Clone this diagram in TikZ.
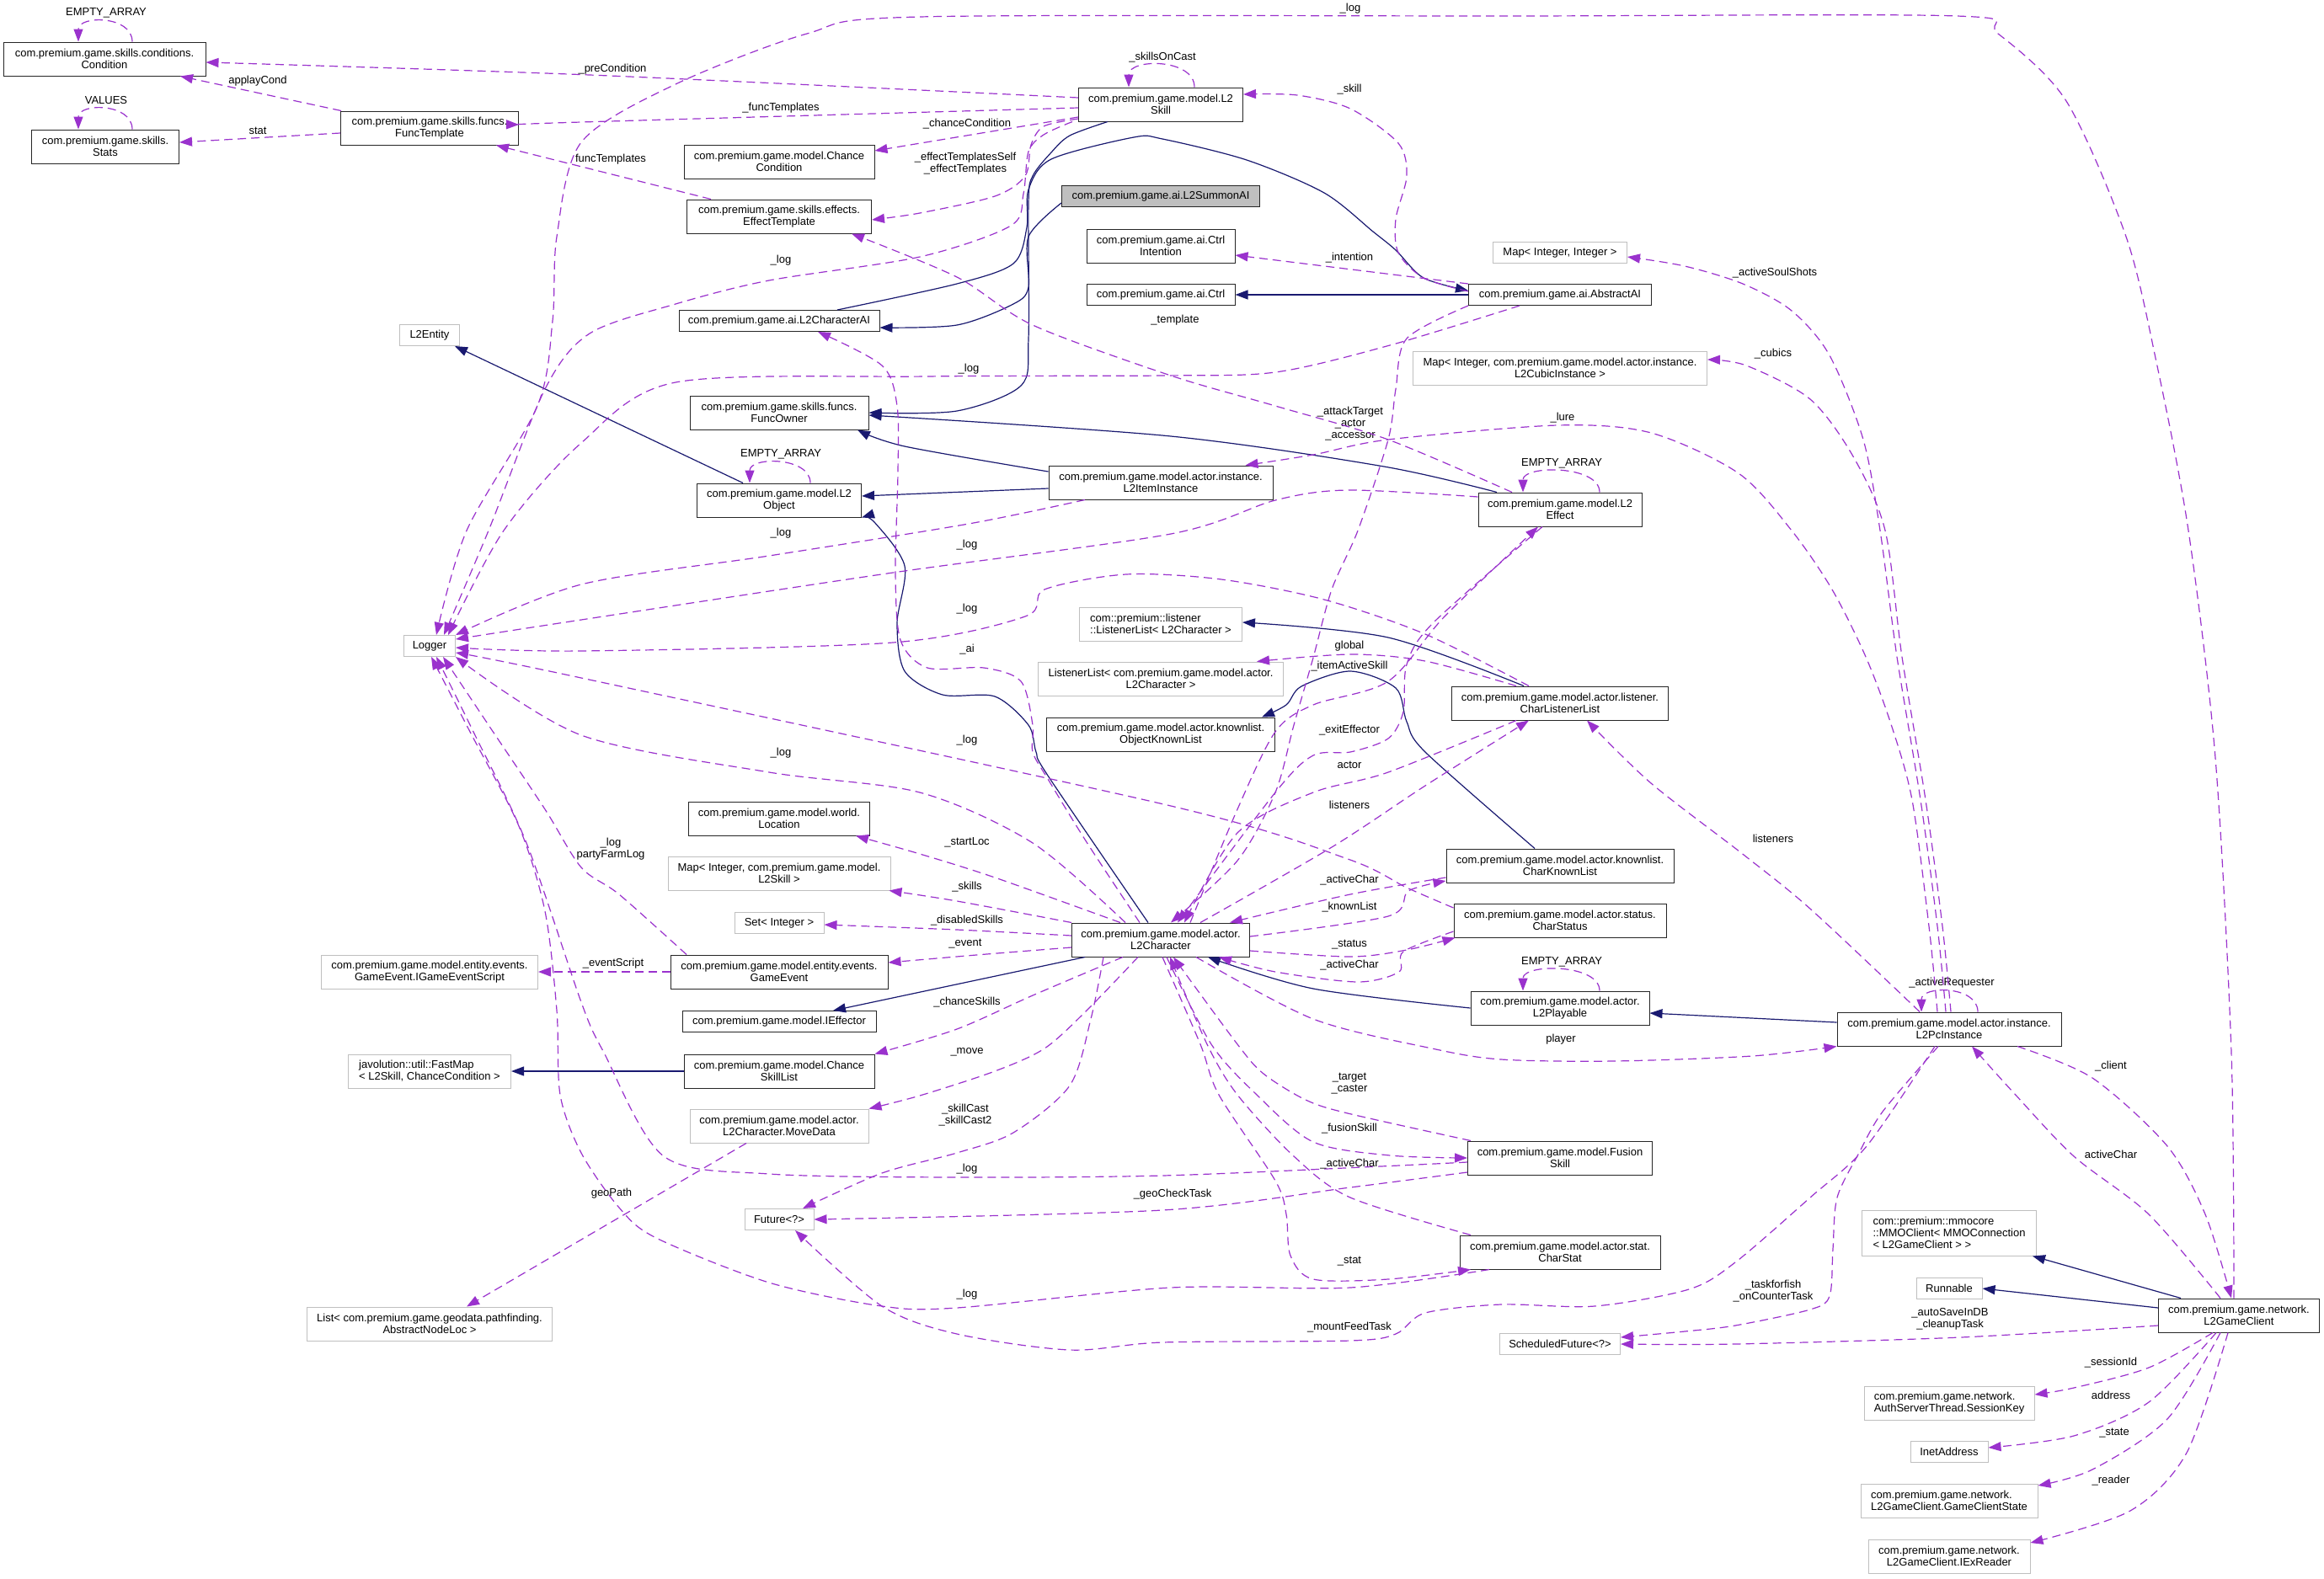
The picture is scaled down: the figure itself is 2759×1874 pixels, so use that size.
\documentclass[tikz,border=0pt]{standalone}
\usepackage{fontspec}
\setmainfont{Liberation Sans}
\usepackage{tikz}
\usetikzlibrary{arrows.meta}
\definecolor{usecol}{HTML}{9A32CD}
\definecolor{inhcol}{HTML}{191970}
\definecolor{extcol}{HTML}{BFBFBF}

\begin{document}
\begin{tikzpicture}[
  x=1pt, y=-1pt,
  font=\fontsize{13}{14}\selectfont,
  cls/.style={
    rectangle,
    draw=black!85,
    line width=1pt,
    fill=white,
    align=center,
    inner xsep=2pt,
    inner ysep=1pt,
    minimum height=25pt
  },
  twoline/.style={minimum height=40pt},
  extcls/.style={cls, draw=extcol},
  focuscls/.style={cls, fill=extcol},
  lbl/.style={inner sep=0pt, align=center},
  inharrow/.style={
    -{Triangle[length=15pt,width=11pt]},
    line width=1.2pt,
    draw=inhcol
  },
  usearrow/.style={
    -{Triangle[length=15pt,width=11pt]},
    line width=1.2pt,
    draw=usecol,
    dash pattern=on 10pt off 6pt
  }
]
\useasboundingbox (0,0) rectangle (2759,1874);
\fill[white] (0,0) rectangle (2759,1874);

\node[cls, twoline, minimum width=240] (cond) at (124,70) {com.premium.game.skills.conditions.\\Condition};
\node[cls, twoline, minimum width=175] (stats) at (125,174) {com.premium.game.skills.\\Stats};
\node[cls, twoline, minimum width=211] (functpl) at (510,152) {com.premium.game.skills.funcs.\\FuncTemplate};
\node[extcls, minimum width=71] (entity) at (510,398) {L2Entity};
\node[extcls, minimum width=61] (logger) at (510,767) {Logger};
\node[extcls, twoline, minimum width=257] (evscript) at (510,1154) {com.premium.game.model.entity.events.\\GameEvent.IGameEventScript};
\node[extcls, twoline, minimum width=193, align=left] (fastmap) at (510,1272) {javolution::util::FastMap\\< L2Skill, ChanceCondition >};
\node[extcls, twoline, minimum width=291] (nodeloc) at (510,1572) {List< com.premium.game.geodata.pathfinding.\\AbstractNodeLoc >};

\node[cls, twoline, minimum width=226] (chcond) at (925,192) {com.premium.game.model.Chance\\Condition};
\node[cls, twoline, minimum width=219] (efftpl) at (925,257) {com.premium.game.skills.effects.\\EffectTemplate};
\node[cls, minimum width=238] (charai) at (925,381) {com.premium.game.ai.L2CharacterAI};
\node[cls, twoline, minimum width=212] (funcowner) at (925,490) {com.premium.game.skills.funcs.\\FuncOwner};
\node[cls, twoline, minimum width=195] (l2obj) at (925,594) {com.premium.game.model.L2\\Object};
\node[cls, twoline, minimum width=215] (location) at (925,972) {com.premium.game.model.world.\\Location};
\node[extcls, twoline, minimum width=264] (mapskill) at (925,1037) {Map< Integer, com.premium.game.model.\\L2Skill >};
\node[extcls, minimum width=106] (setint) at (925,1096) {Set< Integer >};
\node[cls, twoline, minimum width=258] (gameevent) at (925,1154) {com.premium.game.model.entity.events.\\GameEvent};
\node[cls, minimum width=230] (effector) at (925,1213) {com.premium.game.model.IEffector};
\node[cls, twoline, minimum width=226] (chskills) at (925,1272) {com.premium.game.model.Chance\\SkillList};
\node[extcls, twoline, minimum width=212] (movedata) at (925,1337) {com.premium.game.model.actor.\\L2Character.MoveData};
\node[extcls, minimum width=82] (future) at (925,1448) {Future<?>};

\node[cls, twoline, minimum width=195] (skill) at (1378,124) {com.premium.game.model.L2\\Skill};
\node[focuscls, minimum width=235] (summonai) at (1378,233) {com.premium.game.ai.L2SummonAI};
\node[cls, twoline, minimum width=176] (ctrlint) at (1378,292) {com.premium.game.ai.Ctrl\\Intention};
\node[cls, minimum width=176] (ctrl) at (1378,350) {com.premium.game.ai.Ctrl};
\node[cls, twoline, minimum width=266] (item) at (1378,573) {com.premium.game.model.actor.instance.\\L2ItemInstance};
\node[extcls, twoline, minimum width=193, align=left] (lstchar) at (1378,741) {com::premium::listener\\::ListenerList< L2Character >};
\node[extcls, twoline, minimum width=291] (lstgen) at (1378,806) {ListenerList< com.premium.game.model.actor.\\L2Character >};
\node[cls, twoline, minimum width=271] (objknown) at (1378,872) {com.premium.game.model.actor.knownlist.\\ObjectKnownList};
\node[cls, twoline, minimum width=211] (l2char) at (1378,1116) {com.premium.game.model.actor.\\L2Character};

\node[cls, minimum width=217] (abstractai) at (1852,350) {com.premium.game.ai.AbstractAI};
\node[extcls, minimum width=159] (mapint) at (1852,300) {Map< Integer, Integer >};
\node[extcls, twoline, minimum width=349] (mapcubic) at (1852,437) {Map< Integer, com.premium.game.model.actor.instance.\\L2CubicInstance >};
\node[cls, twoline, minimum width=194] (effect) at (1852,605) {com.premium.game.model.L2\\Effect};
\node[cls, twoline, minimum width=257] (charlst) at (1852,835) {com.premium.game.model.actor.listener.\\CharListenerList};
\node[cls, twoline, minimum width=270] (charknown) at (1852,1028) {com.premium.game.model.actor.knownlist.\\CharKnownList};
\node[cls, twoline, minimum width=252] (charstatus) at (1852,1093) {com.premium.game.model.actor.status.\\CharStatus};
\node[cls, twoline, minimum width=212] (playable) at (1852,1197) {com.premium.game.model.actor.\\L2Playable};
\node[cls, twoline, minimum width=219] (fusion) at (1852,1375) {com.premium.game.model.Fusion\\Skill};
\node[cls, twoline, minimum width=238] (charstat) at (1852,1487) {com.premium.game.model.actor.stat.\\CharStat};
\node[extcls, minimum width=143] (schedfut) at (1852,1596) {ScheduledFuture<?>};

\node[cls, twoline, minimum width=266] (pcinst) at (2314,1222) {com.premium.game.model.actor.instance.\\L2PcInstance};
\node[extcls, minimum height=54pt, minimum width=207, align=left] (mmoclient) at (2314,1464) {com::premium::mmocore\\::MMOClient< MMOConnection\\< L2GameClient > >};
\node[extcls, minimum width=78] (runnable) at (2314,1530) {Runnable};
\node[cls, twoline, minimum width=191] (gameclient) at (2658,1562) {com.premium.game.network.\\L2GameClient};
\node[extcls, twoline, minimum width=202, align=left] (sesskey) at (2314,1666) {com.premium.game.network.\\AuthServerThread.SessionKey};
\node[extcls, minimum width=92] (inetaddr) at (2314,1724) {InetAddress};
\node[extcls, twoline, minimum width=210, align=left] (clstate) at (2314,1782) {com.premium.game.network.\\L2GameClient.GameClientState};
\node[extcls, twoline, minimum width=192] (exreader) at (2314,1848) {com.premium.game.network.\\L2GameClient.IExReader};

\draw[inharrow] ([xshift=-43]l2obj.north) -- ([xshift=30]entity.south);
\draw[inharrow] ([yshift=-7]item.west) -- ([yshift=5]l2obj.east);
\draw[inharrow] plot[smooth] coordinates {([yshift=13]item.west) (1074,530) ([xshift=93]funcowner.south)};
\draw[inharrow] plot[smooth] coordinates {([xshift=-75]effect.north) (1643,554) (1390,518) ([yshift=-3]funcowner.east)};
\draw[inharrow] plot[smooth] coordinates {([xshift=-63]skill.south) (1270,161) (1248,181) (1226,209) (1221,241) (1221,402) (1212,458) (1136,488) (funcowner.east)};
\draw[inharrow] plot[smooth] coordinates {([yshift=-8]summonai.west) (1221,281) (1221,341) (1203,361) (1136,386) ([yshift=-8]charai.east)};
\draw[inharrow] plot[smooth] coordinates {([xshift=69]charai.north) (1136,337) (1203,313) (1219,270) (1221,225) (1248,189) (1346,163) (1380,165) (1480,190) (1572,229) (1630,275) (1657,297) (1690,330) ([yshift=5]abstractai.west)};
\draw[inharrow] (abstractai.west) -- (ctrl.east);
\draw[inharrow] plot[smooth] coordinates {([xshift=-43]charlst.north) (1648,757) ([yshift=2]lstchar.east)};
\draw[inharrow] plot[smooth] coordinates {([xshift=-30]charknown.north) (1692,893) (1670,857) (1657,817) (1603,797) (1545,815) (1527,837) ([xshift=-16]objknown.north east)};
\draw[inharrow] plot[smooth] coordinates {([xshift=-15]l2char.north) (1244,921) (1230,893) (1221,861) (1181,827) (1119,825) (1074,797) (1065,740) (1074,672) (1038,620) (l2obj.south east)};
\draw[inharrow] plot[smooth] coordinates {(playable.west) (1559,1174) ([xshift=56]l2char.south)};
\draw[inharrow] ([yshift=8]pcinst.west) -- ([yshift=-6]playable.east);
\draw[inharrow] ([xshift=-90]l2char.south) -- ([xshift=64]effector.north);
\draw[inharrow] (chskills.west) -- (fastmap.east);
\draw[inharrow] ([xshift=-69]gameclient.north) -- ([xshift=99]mmoclient.south);
\draw[inharrow] ([yshift=9]gameclient.west) -- (runnable.east);

\draw[usearrow] ([xshift=33]cond.north) .. controls (157,18) and (93,18) .. ([xshift=-31]cond.north);
\node[lbl] (lcondloop) at (126,15) {EMPTY\_ARRAY};
\draw[usearrow] ([xshift=32]stats.north) .. controls (157,122) and (93,122) .. ([xshift=-32]stats.north);
\node[lbl] (lstatsloop) at (126,119) {VALUES};
\draw[usearrow] ([xshift=37]l2obj.north) .. controls (962,542) and (890,542) .. ([xshift=-35]l2obj.north);
\node[lbl] (lobjloop) at (927,539) {EMPTY\_ARRAY};
\draw[usearrow] ([xshift=40]skill.north) .. controls (1418,69) and (1340,69) .. ([xshift=-38]skill.north);
\node[lbl] (lskillloop) at (1380,68) {\_skillsOnCast};
\draw[usearrow] ([xshift=47]effect.north) .. controls (1899,552) and (1808,552) .. ([xshift=-44]effect.north);
\node[lbl] (leffloop) at (1854,550) {EMPTY\_ARRAY};
\draw[usearrow] ([xshift=47]playable.north) .. controls (1899,1144) and (1808,1144) .. ([xshift=-44]playable.north);
\node[lbl] (lplayloop) at (1854,1142) {EMPTY\_ARRAY};
\draw[usearrow] ([xshift=34]pcinst.north) .. controls (2348,1170) and (2281,1170) .. ([xshift=-33]pcinst.north);
\node[lbl] (lpcloop) at (2317,1167) {\_activeRequester};

\draw[usearrow] plot[smooth] coordinates {([yshift=8]skill.west) (700,89) ([yshift=-4]cond.east)};
\node[lbl] (lprecond) at (727,82) {\_preCondition};
\draw[usearrow] ([xshift=-105]functpl.north) -- ([xshift=90]cond.south);
\node[lbl] (lapplay) at (306,96) {applayCond};
\draw[usearrow] ([yshift=-6]functpl.west) -- ([yshift=5]stats.east);
\node[lbl] (lstat) at (306,155) {stat};
\draw[usearrow] plot[smooth] coordinates {([yshift=-4]skill.west) (690,145) ([yshift=4]functpl.east)};
\node[lbl] (lfunctpls) at (927,128) {\_funcTemplates};
\draw[usearrow] ([xshift=-81]efftpl.north) -- ([xshift=79]functpl.south);
\node[lbl] (lfunctpl) at (725,189) {funcTemplates};
\draw[usearrow] ([yshift=-15]skill.west) -- ([yshift=13]chcond.east);
\node[lbl] (lchcond) at (1148,147) {\_chanceCondition};
\draw[usearrow] plot[smooth] coordinates {([yshift=-17]skill.west) (1239,150) (1224,172) (1217,209) (1181,233) (1092,253) ([yshift=-4]efftpl.east)};
\node[lbl] (lefftpl) at (1146,194) {\_effectTemplatesSelf\\\_effectTemplates};
\draw[usearrow] plot[smooth] coordinates {([xshift=-105]skill.south) (1239,160) (1221,180) (1215,230) (1200,268) (1092,305) (913,333) (802,361) (700,396) (647,462) (580,630) ([xshift=17]logger.north)};
\node[lbl] (llogskill) at (927,309) {\_log};

\draw[usearrow] (abstractai.north west) -- ([yshift=-11]ctrlint.east);
\node[lbl] (lintention) at (1602,306) {\_intention};
\draw[usearrow] plot[smooth] coordinates {([yshift=4]abstractai.west) (1690,330) (1660,300) (1657,260) (1670,209) (1660,170) (1603,129) (1540,113) ([yshift=12]skill.east)};
\node[lbl] (lskill) at (1602,106) {\_skill};
\draw[usearrow] plot[smooth] coordinates {(abstractai.south west) (1670,402) (1657,462) (1648,522) (1612,630) (1581,700) (1559,781) (1536,861) (1514,941) (1469,1022) ([xshift=12]l2char.north)};
\node[lbl] (lactor) at (1603,503) {\_attackTarget\\\_actor\\\_accessor};
\draw[usearrow] plot[smooth] coordinates {([xshift=-25]l2char.north) (1290,1000) (1244,925) (1226,893) (1226,861) (1212,809) (1168,793) (1101,793) (1069,760) (1063,680) (1066,560) (1065,482) (1047,434) ([xshift=46]charai.south)};
\node[lbl] (lai) at (1148,771) {\_ai};
\draw[usearrow] plot[smooth] coordinates {([xshift=-57]effect.north) (1648,522) (1514,482) (1390,446) (1226,386) (1136,329) ([xshift=86]efftpl.south)};
\node[lbl] (ltemplate) at (1395,380) {\_template};
\draw[usearrow] plot[smooth] coordinates {([xshift=35]l2char.north) (1469,961) (1514,869) (1559,837) (1648,809) (1715,732) ([xshift=-26]effect.south)};
\node[lbl] (litemskill) at (1602,791) {\_itemActiveSkill};
\draw[usearrow] plot[smooth] coordinates {([xshift=-21]effect.south) (1701,740) (1670,789) (1666,845) (1648,877) (1603,893) (1559,897) (1514,941) ([xshift=20]l2char.north)};
\node[lbl] (lexit) at (1602,867) {\_exitEffector};

\draw[usearrow] plot[smooth] coordinates {([xshift=-14]pcinst.north) (2290,1100) (2270,950) (2245,860) (2215,780) (2175,700) (2127,630) (2064,562) (1960,514) (1849,505) (1648,522) (1559,540) ([xshift=-33]item.north east)};
\node[lbl] (llure) at (1855,496) {\_lure};
\draw[usearrow] plot[smooth] coordinates {([xshift=-4]pcinst.north) (2300,1100) (2280,950) (2252,780) (2232,630) (2212,522) (2172,422) (2127,369) (2069,337) (2000,316) ([yshift=-5]mapint.east)};
\node[lbl] (lsoul) at (2107,324) {\_activeSoulShots};
\draw[usearrow] plot[smooth] coordinates {([xshift=2]pcinst.north) (2306,1100) (2286,950) (2258,780) (2238,630) (2200,542) (2149,474) (2073,434) ([yshift=10]mapcubic.east)};
\node[lbl] (lcubics) at (2105,420) {\_cubics};

\draw[usearrow] plot[smooth] coordinates {([xshift=-6]gameclient.north) (2649,1250) (2630,900) (2598,630) (2560,430) (2524,281) (2453,120) (2372,40) (2323,19) (1800,19) (1092,20) (958,40) (802,100) (690,169) (661,281) (656,381) (638,482) (554,630) ([xshift=8]logger.north)};
\node[lbl] (lloggc) at (1603,10) {\_log};
\draw[usearrow] plot[smooth] coordinates {([xshift=-48]abstractai.south) (1650,410) (1514,442) (1380,446) (1100,447) (802,454) (690,526) (598,630) ([xshift=22]logger.north)};
\node[lbl] (llogai) at (1150,438) {\_log};
\draw[usearrow] plot[smooth] coordinates {([xshift=-90]item.south) (1150,622) (913,660) (690,694) (logger.north east)};
\node[lbl] (llogitem) at (927,633) {\_log};
\draw[usearrow] plot[smooth] coordinates {([yshift=15]effect.west) (1600,582) (1514,594) (1390,634) (1060,680) (690,736) ([yshift=8]logger.east)};
\node[lbl] (llogeff) at (1148,647) {\_log};
\draw[usearrow] plot[smooth] coordinates {([xshift=-37]charlst.north) (1692,753) (1572,712) (1450,688) (1337,682) (1240,700) (1217,732) (1060,763) (690,773) ([yshift=-2]logger.east)};
\node[lbl] (lloglst) at (1148,723) {\_log};
\draw[usearrow] plot[smooth] coordinates {([yshift=15]charstatus.west) (1670,1054) (1600,1020) (1390,957) (690,805) ([yshift=-8]logger.east)};
\node[lbl] (llogstatus) at (1148,879) {\_log};
\draw[usearrow] plot[smooth] coordinates {([xshift=-42]l2char.north) (1226,1001) (1092,941) (913,917) (690,873) (logger.south east)};
\node[lbl] (llogchar) at (927,894) {\_log};
\draw[usearrow] plot[smooth] coordinates {([xshift=-110]gameevent.north) (735,1062) (690,1030) (647,961) (580,861) ([xshift=16]logger.south)};
\node[lbl] (llogevent) at (725,1008) {\_log\\partyFarmLog};
\draw[usearrow] plot[smooth] coordinates {([yshift=-5]fusion.west) (1639,1385) (1380,1396) (1136,1398) (913,1394) (788,1373) (717,1250) (690,1190) (625,1001) (562,869) ([xshift=8]logger.south)};
\node[lbl] (llogfusion) at (1148,1388) {\_log};
\draw[usearrow] plot[smooth] coordinates {([xshift=-84]charstat.south) (1603,1529) (1390,1529) (1136,1553) (1047,1551) (913,1523) (779,1470) (735,1434) (690,1369) (665,1300) (661,1200) (647,1082) (616,981) (558,869) ([xshift=2]logger.south)};
\node[lbl] (llogstat) at (1148,1537) {\_log};

\draw[usearrow] plot[smooth] coordinates {([xshift=-48]l2char.north) (1181,1042) (1092,1014) ([xshift=91]location.south)};
\node[lbl] (lstartloc) at (1148,1000) {\_startLoc};
\draw[usearrow] plot[smooth] coordinates {(l2char.north west) (1136,1070) ([xshift=-2]mapskill.south east)};
\node[lbl] (lskills) at (1148,1053) {\_skills};
\draw[usearrow] plot[smooth] coordinates {([yshift=5]l2char.west) (1136,1104) ([yshift=-2]setint.east)};
\node[lbl] (ldisabled) at (1148,1093) {\_disabledSkills};
\draw[usearrow] plot[smooth] coordinates {([yshift=-9]l2char.west) (1159,1134) ([yshift=11]gameevent.east)};
\node[lbl] (levent) at (1146,1121) {\_event};
\draw[usearrow] (gameevent.west) -- (evscript.east);
\node[lbl] (levscript) at (728,1144) {\_eventScript};
\draw[usearrow] plot[smooth] coordinates {([xshift=-45]l2char.south) (1226,1182) (1136,1222) (chskills.north east)};
\node[lbl] (lchskills) at (1148,1190) {\_chanceSkills};
\draw[usearrow] plot[smooth] coordinates {([xshift=-27]l2char.south) (1290,1200) (1240,1245) (1181,1272) (1092,1301) (movedata.north east)};
\node[lbl] (lmove) at (1148,1249) {\_move};
\draw[usearrow] ([xshift=-39]movedata.south) -- ([xshift=44]nodeloc.north);
\node[lbl] (lgeopath) at (726,1417) {geoPath};
\draw[usearrow] plot[smooth] coordinates {([xshift=-68]l2char.south) (1295,1210) (1270,1289) (1203,1345) (1136,1369) (1047,1393) ([xshift=28]future.north)};
\node[lbl] (lskillcast) at (1146,1324) {\_skillCast\\\_skillCast2};
\draw[usearrow] plot[smooth] coordinates {([yshift=-17]fusion.west) (1603,1410) (1380,1437) (future.east)};
\node[lbl] (lgeocheck) at (1392,1418) {\_geoCheckTask};
\draw[usearrow] plot[smooth] coordinates {([xshift=-17]pcinst.south) (2216,1361) (2149,1422) (2060,1499) (2005,1531) (1893,1551) (1782,1549) (1692,1559) (1657,1584) (1603,1592) (1380,1594) (1270,1603) (1136,1584) (1047,1551) ([xshift=19]future.south)};
\node[lbl] (lmount) at (1602,1576) {\_mountFeedTask};
\draw[usearrow] plot[smooth] coordinates {([xshift=-13]pcinst.south) (2235,1320) (2207,1369) (2181,1422) (2176,1483) (2172,1539) (2149,1555) (2060,1574) (2000,1581) ([yshift=8]schedfut.east)};
\node[lbl] (lfish) at (2105,1533) {\_taskforfish\\\_onCounterTask};
\draw[usearrow] plot[smooth] coordinates {([yshift=-12]gameclient.west) (2328,1588) (2060,1596) (schedfut.east)};
\node[lbl] (lautosave) at (2315,1566) {\_autoSaveInDB\\\_cleanupTask};

\draw[usearrow] plot[smooth] coordinates {([xshift=81]pcinst.south) (2484,1280) (2573,1361) (2618,1442) ([xshift=-9]gameclient.north)};
\node[lbl] (lclient) at (2506,1266) {\_client};
\draw[usearrow] plot[smooth] coordinates {([xshift=-22]gameclient.north) (2551,1442) (2462,1373) (2390,1297) ([xshift=27]pcinst.south)};
\node[lbl] (lactivegc) at (2506,1371) {activeChar};
\draw[usearrow] plot[smooth] coordinates {([xshift=-31]gameclient.south) (2551,1624) (2462,1648) ([yshift=10]sesskey.east)};
\node[lbl] (lsession) at (2506,1618) {\_sessionId};
\draw[usearrow] plot[smooth] coordinates {([xshift=-27]gameclient.south) (2551,1665) (2462,1705) ([yshift=5]inetaddr.east)};
\node[lbl] (laddress) at (2506,1657) {address};
\draw[usearrow] plot[smooth] coordinates {([xshift=-22]gameclient.south) (2573,1685) (2484,1745) ([yshift=18]clstate.east)};
\node[lbl] (lstate) at (2510,1702) {\_state};
\draw[usearrow] plot[smooth] coordinates {([xshift=-13]gameclient.south) (2596,1725) (2529,1794) ([yshift=16]exreader.east)};
\node[lbl] (lreader) at (2506,1758) {\_reader};

\draw[usearrow] plot[smooth] coordinates {([xshift=-52]charlst.north) (1692,785) (1603,777) ([xshift=114]lstgen.north)};
\node[lbl] (lglobal) at (1602,767) {global};
\draw[usearrow] plot[smooth] coordinates {([xshift=-52]charlst.south) (1648,917) (1559,941) (1469,989) ([xshift=28]l2char.north)};
\node[lbl] (lactorlst) at (1602,908) {actor};
\draw[usearrow] plot[smooth] coordinates {([xshift=47]l2char.north) (1581,1006) (1692,933) ([xshift=-37]charlst.south)};
\node[lbl] (llisten) at (1602,956) {listeners};
\draw[usearrow] plot[smooth] coordinates {([xshift=-35]pcinst.north) (2150,1080) (2070,1015) (1960,930) ([xshift=32]charlst.south)};
\node[lbl] (llistenpc) at (2105,996) {listeners};
\draw[usearrow] plot[smooth] coordinates {([yshift=-14]charknown.west) (1603,1062) ([xshift=82]l2char.north)};
\node[lbl] (lactiveknown) at (1602,1045) {\_activeChar};
\draw[usearrow] plot[smooth] coordinates {([yshift=4]l2char.east) (1648,1088) (1672,1058) ([yshift=-18]charknown.west)};
\node[lbl] (lknown) at (1602,1077) {\_knownList};
\draw[usearrow] plot[smooth] coordinates {([yshift=-13]l2char.east) (1603,1136) (1670,1128) ([xshift=2]charstatus.south west)};
\node[lbl] (lstatus) at (1602,1122) {\_status};
\draw[usearrow] plot[smooth] coordinates {([yshift=-13]charstatus.west) (1666,1130) (1661,1154) (1612,1166) (1514,1154) ([xshift=69]l2char.south)};
\node[lbl] (lactivestatus) at (1602,1146) {\_activeChar};
\draw[usearrow] plot[smooth] coordinates {([xshift=42]l2char.south) (1559,1210) (1700,1245) (1782,1258) (1916,1260) (2080,1254) (pcinst.south west)};
\node[lbl] (lplayer) at (1853,1234) {player};
\draw[usearrow] plot[smooth] coordinates {([xshift=-106]fusion.north) (1600,1322) (1550,1306) (1500,1275) (1469,1240) ([xshift=15]l2char.south)};
\node[lbl] (ltarget) at (1602,1287) {\_target\\\_caster};
\draw[usearrow] plot[smooth] coordinates {([xshift=7]l2char.south) (1438,1240) (1492,1300) (1559,1356) (1650,1372) (fusion.west)};
\node[lbl] (lfusion) at (1602,1340) {\_fusionSkill};
\draw[usearrow] plot[smooth] coordinates {([xshift=-106]charstat.north) (1603,1422) (1536,1373) (1469,1300) (1433,1240) ([xshift=11]l2char.south)};
\node[lbl] (lactivestat) at (1602,1382) {\_activeChar};
\draw[usearrow] plot[smooth] coordinates {([xshift=2]l2char.south) (1425,1240) (1447,1300) (1514,1402) (1527,1442) (1532,1491) (1559,1519) (1648,1519) ([xshift=-106]charstat.south)};
\node[lbl] (lstatchar) at (1602,1498) {\_stat};

\end{tikzpicture}
\end{document}
